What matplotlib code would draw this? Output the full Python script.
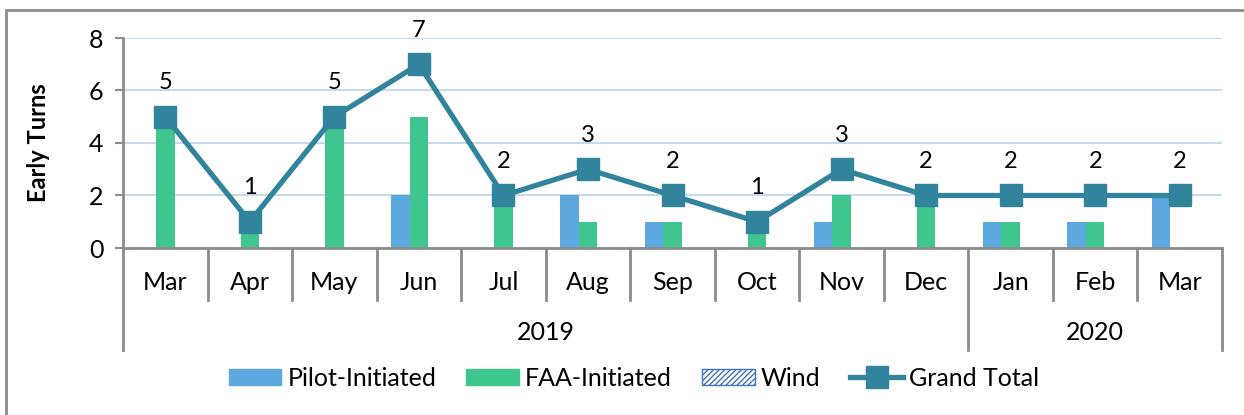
import numpy as np
import matplotlib.pyplot as plt
from matplotlib.patches import Patch, Rectangle
from matplotlib.lines import Line2D
import matplotlib.transforms as mtransforms

plt.rcParams['font.family'] = ['Lato', 'DejaVu Sans']

months = ["Mar", "Apr", "May", "Jun", "Jul", "Aug", "Sep", "Oct", "Nov", "Dec", "Jan", "Feb", "Mar"]
years = ["2019", "2020"]
year_span = [10, 3]  # number of months in each year group
pilot = [0, 0, 0, 2, 0, 2, 1, 0, 1, 0, 1, 1, 2]
faa = [5, 1, 5, 5, 2, 1, 1, 1, 2, 2, 1, 1, 0]
wind = [0, 0, 0, 0, 0, 0, 0, 0, 0, 0, 0, 0, 0]
total = [5, 1, 5, 7, 2, 3, 2, 1, 3, 2, 2, 2, 2]

c_pilot = '#5DA8DF'
c_faa = '#3FC68F'
c_wind = '#4472C4'
c_line = '#31849B'
c_axis = '#8C8C8C'

fig = plt.figure(figsize=(12.44, 4.15), dpi=100)
ax = fig.add_axes([123/1244, 1-248/415, (1222-123)/1244, 210/415])

x = np.arange(len(months))
w = 0.22
ax.bar(x - w, pilot, w, color=c_pilot, zorder=2)
ax.bar(x, faa, w, color=c_faa, zorder=2)
ax.bar(x + w, wind, w, color='white', edgecolor=c_wind, hatch='//////', linewidth=0, zorder=2)
ax.plot(x, total, color=c_line, lw=3.8, marker='s', markersize=16, zorder=3)
for xi, t in zip(x, total):
    ax.annotate(str(t), (xi, t), xytext=(0, 17), textcoords='offset points',
                ha='center', va='bottom', fontsize=17)

ax.set_xlim(-0.5, len(months) - 0.5)
ax.set_ylim(0, 8)
ax.set_yticks([0, 2, 4, 6, 8])
ax.tick_params(axis='y', labelsize=18, length=6, color=c_axis, width=1.5, pad=8)
ax.set_xticks([])
ax.yaxis.grid(True, color='#C9D9EC', lw=1.5, zorder=0)
ax.set_axisbelow(True)
for s in ['top', 'right']:
    ax.spines[s].set_visible(False)
ax.spines['left'].set_color(c_axis)
ax.spines['left'].set_linewidth(2)
ax.spines['bottom'].set_color(c_axis)
ax.spines['bottom'].set_linewidth(2)
ax.set_ylabel('Early Turns', fontsize=17, fontweight='bold', labelpad=28)

# multi-level category axis
trans = mtransforms.blended_transform_factory(ax.transData, ax.transAxes)
for i, m in enumerate(months):
    ax.text(i, -0.162, m, transform=trans, ha='center', va='center', fontsize=18)
bounds = np.cumsum([0] + year_span) - 0.5
for i in range(1, len(months)):
    if i - 0.5 not in bounds:
        ax.plot([i - 0.5, i - 0.5], [0, -0.248], transform=trans, color=c_axis,
                lw=2, clip_on=False)
for b in bounds:
    ax.plot([b, b], [0, -0.486], transform=trans, color=c_axis, lw=2, clip_on=False)
for k, y in enumerate(years):
    ax.text((bounds[k] + bounds[k + 1]) / 2, -0.4, y, transform=trans,
            ha='center', va='center', fontsize=18)

handles = [Patch(color=c_pilot, label='Pilot-Initiated'),
           Patch(color=c_faa, label='FAA-Initiated'),
           Patch(facecolor='white', edgecolor=c_wind, hatch='//////', label='Wind'),
           Line2D([0], [0], color=c_line, lw=3.8, marker='s', markersize=16, label='Grand Total')]
fig.legend(handles=handles, loc='center', bbox_to_anchor=(634/1244, 1-378/415), ncol=4,
           frameon=False, fontsize=18, handlelength=2.1, handleheight=0.6, handletextpad=0.25,
           columnspacing=1.2)

# chart border
fig.patches.append(Rectangle((6/1244, -0.01), 1.2, 1 - 10/415 + 0.01, transform=fig.transFigure,
                             fill=False, edgecolor='#8C8C8C', lw=2))

fig.savefig('out.png', dpi=100)
